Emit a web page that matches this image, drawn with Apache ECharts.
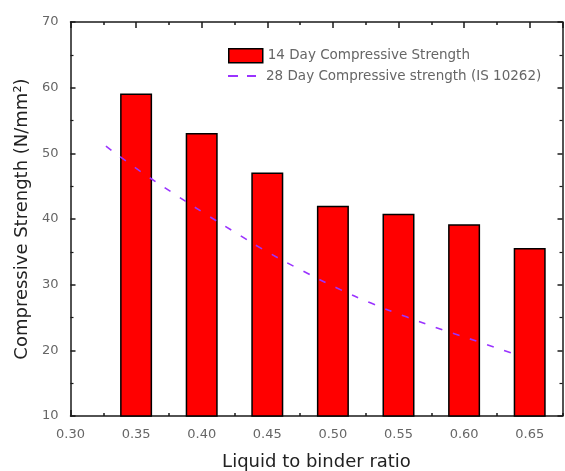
<!DOCTYPE html>
<html>
<head>
<meta charset="utf-8">
<script src="https://cdn.jsdelivr.net/npm/echarts@6/dist/echarts.min.js"></script>
<style>html,body{margin:0;padding:0;background:#fff}#c{width:565px;height:471px}</style>
</head>
<body>
<div id="c"></div>
<script>
// Categories (liquid to binder ratio) and 14-day bar values
const ratios = [0.35, 0.40, 0.45, 0.50, 0.55, 0.60, 0.65];
const strength14 = [59.1, 53.1, 47.1, 42.0, 40.8, 39.2, 35.6];
// 28-day reference curve (IS 10262)
const curveX = [0.327, 0.353, 0.377, 0.401, 0.426, 0.450, 0.477, 0.503, 0.529, 0.556, 0.584, 0.611, 0.639];
const curveY = [51.1, 47.3, 44.1, 41.0, 37.9, 35.0, 32.1, 29.5, 27.2, 25.1, 23.1, 21.3, 19.4];
const seriesNames = ['14 Day Compressive Strength', '28 Day Compressive strength (IS 10262)'];

const font = 'DejaVu Sans';
const axisColor = '#1a1a1a';
const labelColor = '#666';
const curveColor = '#9a33ff';

function xAx(pos, interval, len, showLabel, showLine) {
  return {
    type: 'value', position: pos, min: 0.30, max: 0.675, interval: interval,
    axisLine: { show: showLine, onZero: false, lineStyle: { color: axisColor, width: 1.5 } },
    axisTick: { show: true, inside: true, length: len, lineStyle: { color: axisColor, width: 1.5 } },
    axisLabel: {
      show: showLabel, margin: 12, color: labelColor, fontFamily: font, fontSize: 13,
      showMaxLabel: false,
      formatter: v => v.toFixed(2)
    },
    splitLine: { show: false }
  };
}
function yAx(pos, showLabel) {
  return {
    type: 'value', position: pos, min: 10, max: 70, interval: 10,
    axisLine: { show: true, onZero: false, lineStyle: { color: axisColor, width: 1.5 } },
    axisTick: { show: true, inside: true, length: 5, lineStyle: { color: axisColor, width: 1.5 } },
    minorTick: { show: true, splitNumber: 2, length: 3, lineStyle: { color: axisColor, width: 1.2 } },
    axisLabel: { show: showLabel, margin: 12, color: labelColor, fontFamily: font, fontSize: 13 },
    splitLine: { show: false }
  };
}

const xAxes = [
  xAx('bottom', 0.05, 6, true, true),
  xAx('bottom', 0.025, 3, false, false),
  xAx('top', 0.05, 6, false, true),
  xAx('top', 0.025, 3, false, false)
];
xAxes[0].name = 'Liquid to binder ratio';
xAxes[0].nameLocation = 'middle';
xAxes[0].nameGap = 37;
xAxes[0].nameTextStyle = { color: '#222', fontFamily: font, fontSize: 18 };

const yAxes = [yAx('left', true), yAx('right', false)];
yAxes[0].name = 'Compressive Strength (N/mm²)';
yAxes[0].nameLocation = 'middle';
yAxes[0].nameGap = 33;
yAxes[0].nameTextStyle = { color: '#222', fontFamily: font, fontSize: 18 };

const chart = echarts.init(document.getElementById('c'), null, { renderer: 'canvas' });
chart.setOption({
  animation: false,
  backgroundColor: '#fff',
  grid: { left: 70.5, right: 2.5, top: 22, bottom: 55, containLabel: false, outerBoundsMode: 'none' },
  xAxis: xAxes,
  yAxis: yAxes,
  legend: [
    {
      data: [{ name: seriesNames[0], icon: 'rect' }],
      left: 228, top: 48, itemWidth: 34, itemHeight: 14, padding: 0,
      textStyle: { color: labelColor, fontFamily: font, fontSize: 13.5 },
      itemStyle: { borderColor: '#000', borderWidth: 1.5 }
    },
    {
      data: [{ name: seriesNames[1], icon: 'path://M0,0H10V2H0Z M19,0H28V2H19Z' }],
      left: 228, top: 69, itemWidth: 28, itemHeight: 2, padding: 0,
      textStyle: { color: labelColor, fontFamily: font, fontSize: 13.5, padding: [0, 0, 0, 5] },
      itemStyle: { color: curveColor, borderWidth: 0 }
    }
  ],
  series: [
    {
      name: seriesNames[0], type: 'bar', xAxisIndex: 0, yAxisIndex: 0,
      barWidth: 32,
      itemStyle: { color: '#ff0000', borderColor: '#000', borderWidth: 1.5 },
      data: ratios.map((r, i) => [r, strength14[i]]),
      z: 2
    },
    {
      name: seriesNames[1], type: 'line', xAxisIndex: 0, yAxisIndex: 0,
      smooth: true, symbol: 'none',
      lineStyle: { color: curveColor, width: 1.6, type: [7, 11] },
      itemStyle: { color: curveColor },
      data: curveX.map((x, i) => [x, curveY[i]]),
      z: 3
    }
  ]
});
</script>
</body>
</html>
